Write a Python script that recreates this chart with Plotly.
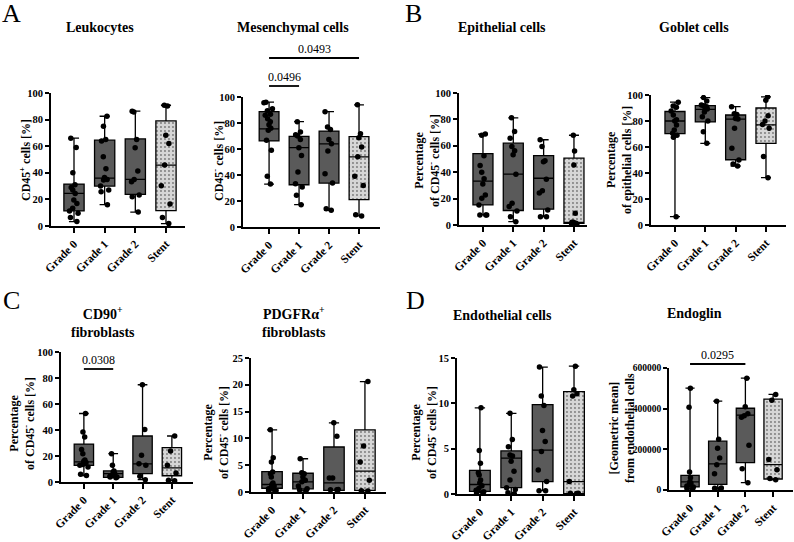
import plotly.graph_objects as go

W, H = 794, 542
FONT = "Liberation Serif, Times New Roman, serif"

cats = ["Grade 0", "Grade 1", "Grade 2", "Stent"]

# ---------------- data ----------------
leuk_pts = [
    [66, 59, 40, 31, 29, 27, 24.5, 19.5, 17, 13.3, 11.3, 9.5, 6.3, 3.3],
    [82.5, 75, 65, 64, 52, 43, 36.5, 35, 34.5, 30, 27, 25.7, 16],
    [86.3, 85.8, 65, 58.8, 41.3, 35, 33.3, 23.3, 22, 10.5],
    [90.8, 90.3, 68.3, 62, 45.8, 30.3, 16.5, 6.3, 1.8],
]
leuk_q1 = [11.3, 30, 23.8, 11.5]
leuk_med = [24.5, 36, 35, 45.8]
leuk_q3 = [31.5, 64.5, 65.5, 79]

mes_pts = [
    [96, 95.5, 91, 89.5, 86.7, 86, 83.3, 81, 78.7, 76, 74.4, 66.7, 59, 39, 33],
    [81, 73, 71, 70, 67.4, 61, 55, 42.3, 33.3, 30.8, 24.4, 17.2],
    [88.7, 77, 75, 67.4, 64, 58.5, 41, 33.8, 14.1, 12.8],
    [94, 71.8, 68.7, 61.5, 54, 39, 32, 9.5, 8.5],
]
mes_q1 = [66.2, 32.5, 33.8, 21]
mes_med = [75.5, 61, 64, 54]
mes_q3 = [88.7, 69.7, 73.8, 69.5]

epi_pts = [
    [68.9, 68, 52.4, 45, 40, 35, 31, 22.8, 20.3, 15.2, 7.6, 7.6, 7.6],
    [81.2, 70.9, 65.8, 59.5, 56.2, 53.2, 38.5, 16.5, 14, 10.6, 6.3, 2.5],
    [64.6, 59.5, 48.6, 48, 34.7, 26, 24.3, 11.4, 6.3, 6.3],
    [68, 56, 45.5, 8.9, 2, 1.3, 0.5, 0.5, 2],
]
epi_q1 = [15.2, 11, 12, 1.2]
epi_med = [33.3, 38.5, 35.4, 2.0]
epi_q3 = [54, 62, 52.5, 50.6]

gob_pts = [
    [94.5, 91.5, 90.5, 87.7, 84.6, 81, 80, 76.9, 73, 70.5, 69, 67.5, 6.4],
    [98, 95.4, 92.3, 91.8, 91, 90.3, 89.2, 87, 83.3, 80, 71.8, 62.8],
    [91, 85.6, 85, 82, 81.5, 74.4, 59, 50, 47, 45.4],
    [98.5, 96, 84, 80, 77.4, 74.4, 52.6, 36.4],
]
gob_q1 = [70.3, 79.3, 50.2, 62.8]
gob_med = [80, 89, 81.5, 77]
gob_q3 = [87.3, 91.8, 84.6, 90]

cd90_pts = [
    [52.7, 38.5, 34.6, 25, 21.8, 17, 16, 15, 13.5, 12.8, 11.5, 5.9, 5],
    [21.8, 12.8, 8.5, 7.7, 6.4, 5, 4.4, 3.8, 3.8, 3.3],
    [74.8, 40.3, 20.5, 14.1, 12.8, 4.4, 1.8],
    [35.4, 23.8, 12.8, 6.9, 1.3, 1.0],
]
cd90_q1 = [12.8, 3.6, 6.4, 4.8]
cd90_med = [15.5, 6.5, 14, 10.8]
cd90_q3 = [29.2, 8.5, 35.4, 26.4]

pdg_pts = [
    [11.6, 6.4, 5.6, 3.75, 3.4, 2.8, 1.7, 1.4, 1.1, 0.8, 0.6, 0.3, 0.2, 0.3],
    [6.2, 3.6, 3.4, 2.8, 2.2, 1.9, 1.1, 0.6, 0.4, 0.2],
    [12.9, 10.4, 2.6, 2.6, 0.45, 0.4, 0.4],
    [20.6, 8.6, 5.6, 2.2, 0.25, 0.2],
]
pdg_q1 = [0.7, 0.6, 0.3, 0.3]
pdg_med = [1.4, 1.9, 1.7, 3.9]
pdg_q3 = [3.8, 3.5, 8.4, 11.6]

endo_pts = [
    [9.5, 4.8, 3.4, 2.35, 2.1, 1.55, 1.2, 0.9, 0.6, 0.4, 0.15, 0.15, 0.26],
    [8.9, 6.0, 5.2, 4.3, 4.2, 3.6, 2.5, 1.55, 0.7, 0.5, 0.15, 0.02],
    [14.0, 10.8, 9.75, 7.0, 5.8, 4.7, 2.65, 1.37, 0.37, 0.37],
    [14.1, 11.5, 11.07, 10.8, 1.37, 0.07, 0.07, 0.05],
]
endo_q1 = [0.3, 0.7, 1.37, 0.05]
endo_med = [1.05, 3.95, 4.85, 1.37]
endo_q3 = [2.6, 4.75, 9.85, 11.3]

eng_pts = [
    [501000, 407000, 88000, 60000, 41000, 33000, 28000, 20000, 15000, 8000, 5000],
    [437000, 250000, 205000, 157000, 124000, 80000, 10000, 8000, 5000],
    [550000, 410000, 375000, 365000, 358000, 220000, 105000, 36000],
    [470000, 442000, 150000, 100000, 57000, 50000],
]
eng_q1 = [15000, 28000, 135000, 54000]
eng_med = [40000, 128000, 368000, 125000]
eng_q3 = [72000, 240000, 402000, 447000]

titles = ["Leukocytes", "Mesenchymal cells", "Epithelial cells", "Goblet cells",
          "CD90<sup>+</sup><br>fibroblasts", "PDGFRα<sup>+</sup><br>fibroblasts",
          "Endothelial cells", "Endoglin"]
ytitles = ["CD45<sup>+</sup> cells [%]", "CD45<sup>-</sup> cells [%]",
           "Percentage<br>of CD45<sup>-</sup> cells [%]", "Percentage<br>of epithelial cells [%]",
           "Percentage<br>of CD45<sup>-</sup> cells [%]", "Percentage<br>of CD45<sup>-</sup> cells [%]",
           "Percentage<br>of CD45<sup>-</sup> cells [%]", "[Geometric mean]<br>from endothelial cells"]
pvalues = ["0.0493", "0.0496", "0.0308", "0.0295"]

data = [
    (leuk_pts, leuk_q1, leuk_med, leuk_q3),
    (mes_pts, mes_q1, mes_med, mes_q3),
    (epi_pts, epi_q1, epi_med, epi_q3),
    (gob_pts, gob_q1, gob_med, gob_q3),
    (cd90_pts, cd90_q1, cd90_med, cd90_q3),
    (pdg_pts, pdg_q1, pdg_med, pdg_q3),
    (endo_pts, endo_q1, endo_med, endo_q3),
    (eng_pts, eng_q1, eng_med, eng_q3),
]

# ---------------- layout geometry (pixels) ----------------
# (axis_left_px, axis_right_px, top_px, bottom_px, xrange, ymax, dtick)
geom = [
    (51, 185, 93, 226, [-0.75, 3.62], 100, 20),
    (243, 380, 97, 227, [-0.87, 3.70], 100, 20),
    (459, 587, 93, 225, [-0.79, 3.43], 100, 20),
    (651, 786, 95, 225, [-0.79, 3.66], 100, 20),
    (61, 193, 352, 482, [-0.78, 3.72], 100, 20),
    (251, 386, 358, 492, [-0.68, 3.68], 25, 5),
    (457, 585, 358, 494, [-0.73, 3.35], 15, 5),
    (669, 793, 368, 490, [-0.76, 3.72], 600000, 200000),
]
ytick_size = [10.5, 10.5, 10.5, 10.5, 10.5, 10.5, 10.5, 9.5]
title_pos = [(100, 28), (293, 28), (502, 28), (694, 28), (103, 322), (294, 322), (502, 315), (694, 313)]
ytitle_pos = [(25, 160), (219, 161), (427, 160), (619, 160), (22, 424), (216, 433), (424, 432), (622, 428)]

BOXW = 0.66
DARK = "#5a5a5a"
LIGHT = "#d6d6d6"


def cat_px(i, c):
    xl, xr, _, _, xrange, _, _ = geom[i]
    return xl + (c - xrange[0]) / (xrange[1] - xrange[0]) * (xr - xl)


fig = go.Figure()
layout = dict(
    template="none",
    width=W, height=H, margin=dict(l=0, r=0, t=0, b=0),
    paper_bgcolor="white", plot_bgcolor="white",
    showlegend=False, boxmode="overlay",
    font=dict(family=FONT, color="black"),
)

annotations = []
shapes = []

for i, ((pts, q1, med, q3), g) in enumerate(zip(data, geom)):
    xl, xr, yt, yb, xrange, ymax, dtick = g
    sfx = "" if i == 0 else str(i + 1)
    xa, ya = "x" + sfx, "y" + sfx
    layout["xaxis" + sfx] = dict(
        domain=[xl / W, xr / W], anchor=ya, type="category",
        categoryorder="array", categoryarray=cats, range=xrange,
        showline=True, linecolor="black", linewidth=1.6,
        ticks="outside", ticklen=5, tickwidth=1.6, tickcolor="black",
        tickangle=-45, showgrid=False, zeroline=False,
        tickfont=dict(family=FONT, size=11.5, weight="bold", color="black"),
    )
    layout["yaxis" + sfx] = dict(
        domain=[1 - yb / H, 1 - yt / H], anchor=xa, range=[0, ymax],
        dtick=dtick, tick0=0, tickformat="d",
        showline=True, linecolor="black", linewidth=1.6,
        ticks="outside", ticklen=4, tickwidth=1.6, tickcolor="black",
        showgrid=False, zeroline=False,
        tickfont=dict(family=FONT, size=ytick_size[i], weight="bold", color="black"),
    )
    # dotted background for the Stent box
    fig.add_trace(go.Bar(
        x=[cats[3]], base=[q1[3]], y=[q3[3] - q1[3]], width=BOXW,
        marker=dict(color=LIGHT, line=dict(width=0),
                    pattern=dict(shape=".", fgcolor="#7a7a7a", bgcolor=LIGHT, size=4, solidity=0.18)),
        xaxis=xa, yaxis=ya, hoverinfo="skip",
    ))
    for j in range(4):
        fig.add_trace(go.Box(
            x=[cats[j]], q1=[q1[j]], median=[med[j]], q3=[q3[j]],
            lowerfence=[min(pts[j])], upperfence=[max(pts[j])],
            fillcolor=DARK if j < 3 else "rgba(0,0,0,0)",
            line=dict(color="black", width=1.3), whiskerwidth=0.5, width=BOXW,
            boxpoints=False, xaxis=xa, yaxis=ya, hoverinfo="skip",
        ))
        fig.add_trace(go.Box(
            x=[cats[j]] * len(pts[j]), y=pts[j], boxpoints="all", jitter=0.55, pointpos=0,
            fillcolor="rgba(0,0,0,0)", line=dict(width=0, color="rgba(0,0,0,0)"),
            marker=dict(color="black", size=5.5, line=dict(width=0)), width=BOXW,
            xaxis=xa, yaxis=ya, hoverinfo="skip",
        ))
    tx, ty = title_pos[i]
    annotations.append(dict(text=titles[i], x=tx / W, y=1 - ty / H, xref="paper", yref="paper",
                            showarrow=False, xanchor="center", yanchor="middle",
                            font=dict(family=FONT, size=14, weight="bold", color="black")))
    yx, yy = ytitle_pos[i]
    annotations.append(dict(text=ytitles[i], x=yx / W, y=1 - yy / H, xref="paper", yref="paper",
                            showarrow=False, textangle=-90, xanchor="center", yanchor="middle",
                            font=dict(family=FONT, size=12, weight="bold", color="black")))

# panel letters
for letter, (lx, ly) in zip("ABCD", [(11, 14), (413, 14), (11, 300), (415, 300)]):
    annotations.append(dict(text=letter, x=lx / W, y=1 - ly / H, xref="paper", yref="paper",
                            showarrow=False, xanchor="center", yanchor="middle",
                            font=dict(family=FONT, size=26, color="black")))

# significance brackets: (panel index, from cat, to cat, line y px, text)
brackets = [(1, 0, 3, 58, pvalues[0]), (1, 0, 1, 86, pvalues[1]),
            (4, 0, 1, 369, pvalues[2]), (7, 0, 2, 364, pvalues[3])]
for pi, a, b, ly, txt in brackets:
    sfx = str(pi + 1)
    shapes.append(dict(type="line", xref="x" + sfx, yref="paper", x0=cats[a], x1=cats[b],
                       y0=1 - ly / H, y1=1 - ly / H, line=dict(color="black", width=1.8)))
    cx = (cat_px(pi, a) + cat_px(pi, b)) / 2
    annotations.append(dict(text=txt, xref="paper", yref="paper",
                            x=cx / W, y=1 - (ly - 9) / H, showarrow=False,
                            xanchor="center", yanchor="middle",
                            font=dict(family=FONT, size=12, color="black")))

layout["annotations"] = annotations
layout["shapes"] = shapes
fig.update_layout(**layout)
fig.write_html("out.html")
